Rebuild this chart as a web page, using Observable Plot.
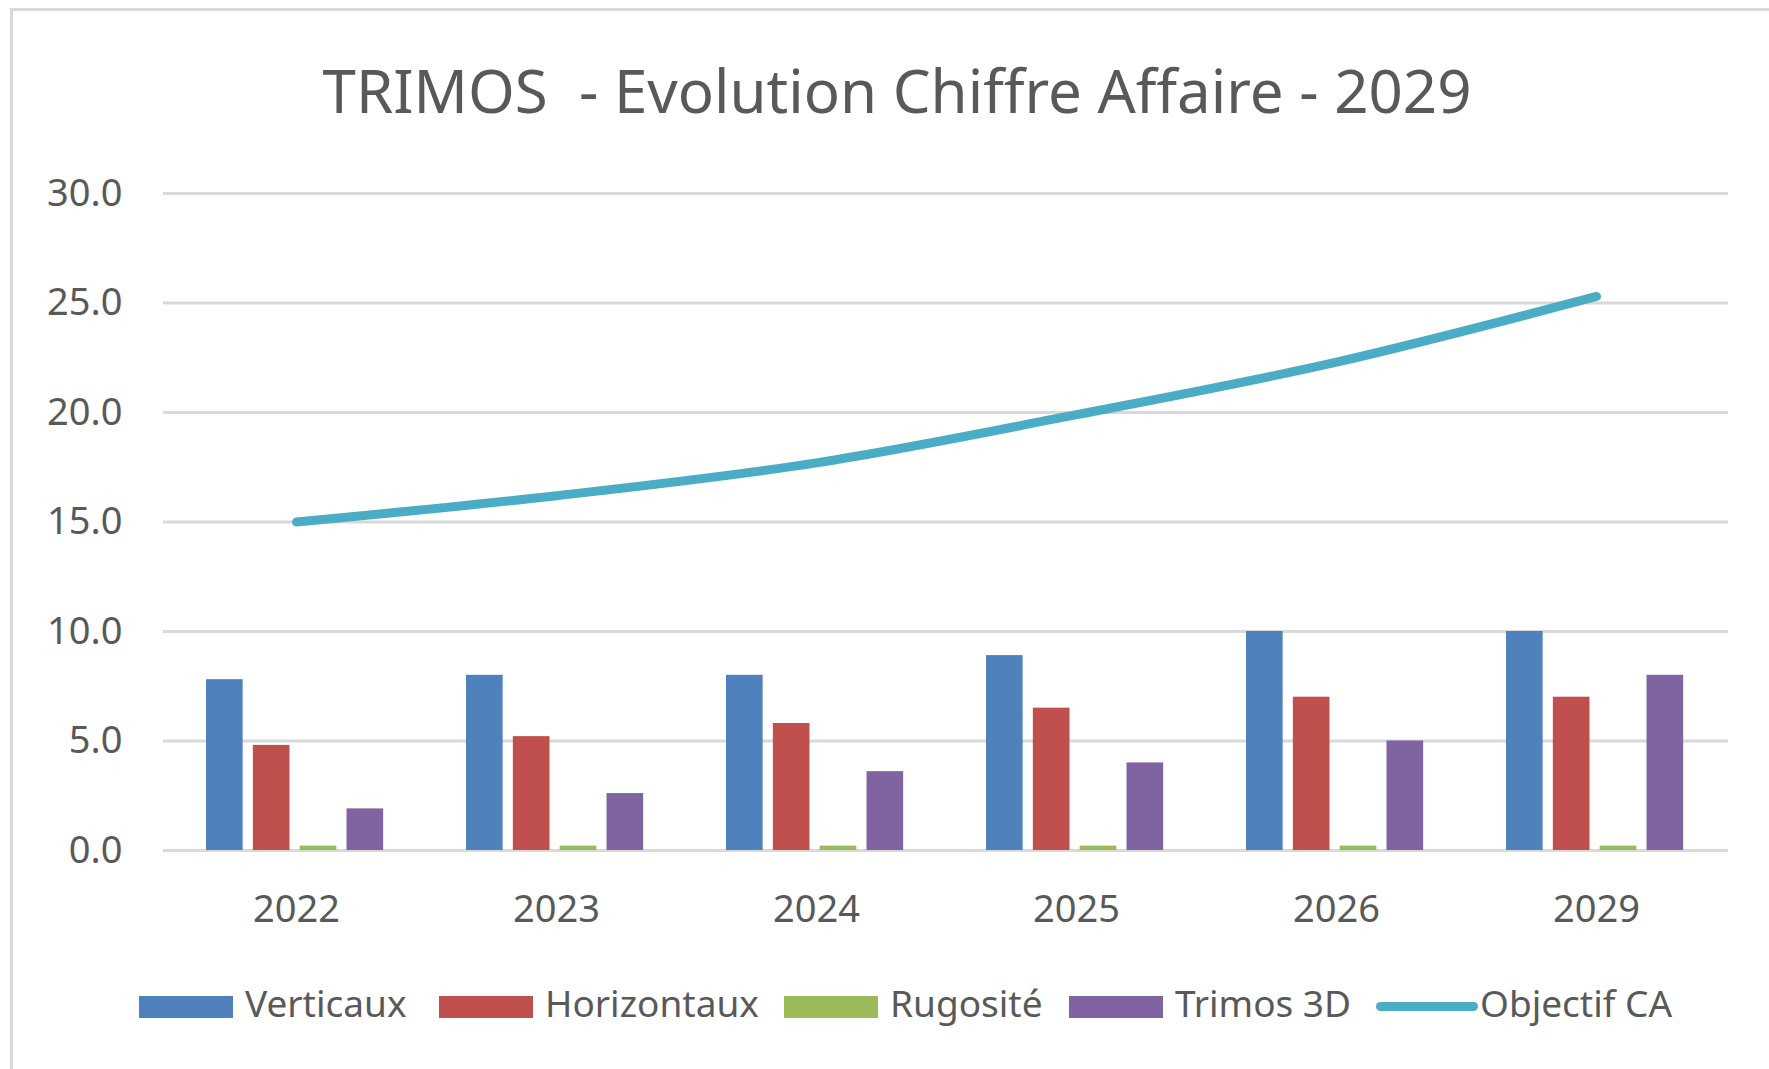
<!DOCTYPE html>
<html>
<head>
<meta charset="utf-8">
<script src="https://cdn.jsdelivr.net/npm/d3@7"></script>
<script src="https://cdn.jsdelivr.net/npm/@observablehq/plot@0.6"></script>
<style>
html, body { margin: 0; padding: 0; background: #fff; overflow: hidden; }
#wrap { position: relative; width: 1769px; height: 1069px; font-family: "Noto Sans", sans-serif; color: #595959; }
#frame { position: absolute; left: 10px; top: 8px; right: 0; bottom: 0; border-left: 3px solid #d9d9d9; border-top: 3px solid #d9d9d9; }
#title { position: absolute; left: 0; top: 60px; width: 1794px; text-align: center; font-size: 60px; line-height: 1; white-space: pre; }
#chart { position: absolute; left: 0; top: 0; }
.leg { position: absolute; top: 984px; display: flex; align-items: center; font-size: 37px; line-height: 1; white-space: nowrap; }
.sw { width: 94px; height: 22px; margin-right: 12px; position: relative; top: 4px; }
.ln { width: 102px; height: 9px; border-radius: 5px; margin-right: 2px; position: relative; top: 4px; }
</style>
</head>
<body>
<div id="wrap">
  <div id="frame"></div>
  <div id="title"></div>
  <div id="chart"></div>
</div>
<script>
// ---- data ----
const titleText = "TRIMOS  - Evolution Chiffre Affaire - 2029";
const years = ["2022", "2023", "2024", "2025", "2026", "2029"];
const seriesNames = ["Verticaux", "Horizontaux", "Rugosité", "Trimos 3D"];
const verticaux = [7.8, 8.0, 8.0, 8.9, 10.0, 10.0];
const horizontaux = [4.8, 5.2, 5.8, 6.5, 7.0, 7.0];
const rugosite = [0.2, 0.2, 0.2, 0.2, 0.2, 0.2];
const trimos3d = [1.9, 2.6, 3.6, 4.0, 5.0, 8.0];
const lineName = "Objectif CA";
const objectifCA = [15.0, 16.2, 17.7, 19.9, 22.3, 25.3];
const yTicks = [0, 5, 10, 15, 20, 25, 30];

// ---- styles ----
const barColors = ["#4F81BD", "#C0504D", "#9BBB59", "#8064A2"];
const lineColor = "#4BACC6";
const seriesValues = [verticaux, horizontaux, rugosite, trimos3d];

const W = 1769, H = 960, mL = 163, mR = 41, mT = 193, mB = 110;
const bw = (W - mL - mR) / years.length;
const inner = d3.scaleBand().domain(seriesNames).range([40, 218]).paddingInner(0.2);

document.getElementById("title").textContent = titleText;

const barMarks = seriesNames.map((s, i) =>
  Plot.barY(years.map((y, j) => ({year: y, value: seriesValues[i][j]})), {
    x: "year",
    y: "value",
    fill: barColors[i],
    insetLeft: inner(s),
    insetRight: bw - inner(s) - inner.bandwidth()
  })
);

const lineData = years.map((y, j) => ({year: y, value: objectifCA[j]}));

const chart = Plot.plot({
  width: W,
  height: H,
  marginLeft: mL,
  marginRight: mR,
  marginTop: mT,
  marginBottom: mB,
  style: {fontFamily: "Noto Sans, sans-serif", fontSize: "38px", color: "#595959", background: "transparent", overflow: "visible"},
  x: {type: "band", domain: years, padding: 0, tickSize: 0, tickPadding: 45, label: null},
  y: {domain: [0, 30], ticks: yTicks, tickFormat: d => d.toFixed(1), tickSize: 0, tickPadding: 41, label: null},
  marks: [
    Plot.ruleY(yTicks, {stroke: "#d9d9d9", strokeWidth: 3}),
    ...barMarks,
    Plot.line(lineData, {x: "year", y: "value", stroke: lineColor, strokeWidth: 9, curve: "catmull-rom", strokeLinecap: "round"})
  ]
});
document.getElementById("chart").appendChild(chart);

// ---- legend ----
const wrap = document.getElementById("wrap");
const legLefts = [139, 439, 784, 1069, 1376];
seriesNames.forEach((s, i) => {
  const item = document.createElement("div");
  item.className = "leg";
  item.style.left = legLefts[i] + "px";
  const sw = document.createElement("div");
  sw.className = "sw";
  sw.style.background = barColors[i];
  const t = document.createElement("span");
  t.textContent = s;
  item.appendChild(sw);
  item.appendChild(t);
  wrap.appendChild(item);
});
{
  const item = document.createElement("div");
  item.className = "leg";
  item.style.left = legLefts[4] + "px";
  const sw = document.createElement("div");
  sw.className = "ln";
  sw.style.background = lineColor;
  const t = document.createElement("span");
  t.textContent = lineName;
  item.appendChild(sw);
  item.appendChild(t);
  wrap.appendChild(item);
}
</script>
</body>
</html>
